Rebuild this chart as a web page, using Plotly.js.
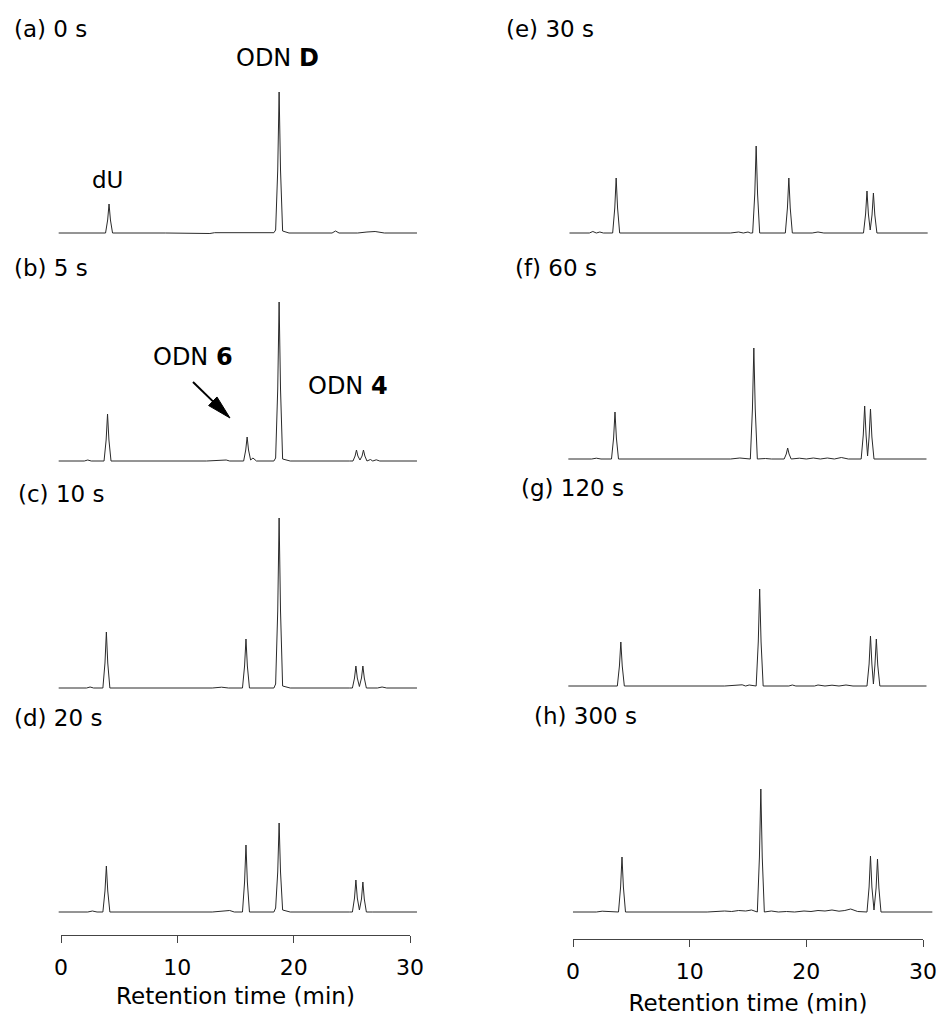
<!DOCTYPE html>
<html>
<head>
<meta charset="utf-8">
<script src="https://cdn.plot.ly/plotly-3.0.1.min.js"></script>
<style>html,body{margin:0;padding:0;background:#fff;}#chart{width:943px;height:1024px;}</style>
</head>
<body>
<div id="chart"></div>
<script>
// ---- Data: retention time (min) and detector response (arbitrary units) ----
const panelLabels = ["(a) 0 s","(b) 5 s","(c) 10 s","(d) 20 s","(e) 30 s","(f) 60 s","(g) 120 s","(h) 300 s"];
const tickValues = [0, 10, 20, 30];
const tickLabels = ["0", "10", "20", "30"];
const axisTitle = "Retention time (min)";

const xa = [-0.2, 1.8, 2.2, 2.6, 3.83, 4.01, 4.13, 4.25, 4.43, 9.0, 12.8, 13.2, 18.3, 18.45, 18.63, 18.75, 18.87, 19.05, 19.6, 23.3, 23.6, 23.9, 25.5, 26.3, 27.0, 27.8, 30.6];
const ya = [0, 0, 0.6, 0, 0, 13, 29, 13, 0, 0, -0.5, 0.3, 0.3, 3, 63, 141, 63, 2, 0, 0, 2, 0, 0, 1, 1.5, 0, 0];

const xb = [-0.2, 2.0, 2.3, 2.6, 3.7, 3.88, 4.0, 4.12, 4.3, 12.5, 14.2, 14.5, 15.7, 15.88, 16.0, 16.12, 16.3, 16.5, 16.8, 18.3, 18.45, 18.63, 18.75, 18.87, 19.05, 19.7, 24.8, 25.1, 25.28, 25.4, 25.52, 25.7, 25.88, 26.0, 26.12, 26.3, 26.6, 26.8, 27.1, 27.4, 30.6];
const yb = [0, 0, 1, 0, 0, 21, 47, 21, 0, 0, 1, 0, 0, 11, 24, 11, 1, 3, 0, 0, 3, 72, 159, 72, 2, 0, 0, 0, 5, 11, 5, 1, 5, 11, 5, 0, 1.5, 0, 1.2, 0, 0];

const xc = [-0.2, 2.2, 2.5, 2.8, 3.6, 3.78, 3.9, 4.02, 4.2, 13.0, 13.8, 14.4, 15.6, 15.78, 15.9, 16.02, 16.2, 18.3, 18.45, 18.63, 18.75, 18.87, 19.05, 19.7, 24.8, 25.05, 25.23, 25.35, 25.47, 25.65, 25.83, 25.95, 26.07, 26.25, 27.2, 27.6, 28.0, 30.6];
const yc = [0, 0, 1, 0, 0, 25, 56, 25, 0, 0, 0.8, 0, 0, 22, 49, 22, 0, 0, 4, 77, 170, 77, 2, 0, 0, 0, 10, 22, 10, 1.5, 10, 22, 10, 0, 0, 1, 0, 0];

const xd = [-0.2, 2.3, 2.7, 3.1, 3.6, 3.78, 3.9, 4.02, 4.2, 13.0, 14.5, 14.9, 15.6, 15.78, 15.9, 16.02, 16.2, 18.3, 18.45, 18.63, 18.75, 18.87, 19.05, 19.7, 24.8, 25.05, 25.23, 25.35, 25.47, 25.65, 25.83, 25.95, 26.07, 26.25, 26.8, 30.6];
const yd = [0, 0, 1, 0, 0, 21, 46, 21, 0, 0, 1.5, 0, 0, 30, 67, 30, 0, 0, 4, 40, 89, 40, 2, 0, 0, 0, 14, 32, 14, 2, 13, 30, 13, 0, 0, 0];

const xe = [-0.3, 1.4, 1.7, 2.0, 2.3, 2.6, 3.4, 3.58, 3.7, 3.82, 4.0, 13.5, 14.2, 14.6, 15.0, 15.2, 15.4, 15.58, 15.7, 15.82, 16.0, 18.2, 18.38, 18.5, 18.62, 18.8, 20.5, 21.0, 21.5, 24.9, 25.08, 25.2, 25.32, 25.475, 25.63, 25.75, 25.87, 26.05, 30.4];
const ye = [0, 0, 1.5, 0, 1, 0, 0, 25, 55, 25, 0, 0, 1, 0, 1, 0, 0, 39, 87, 39, 0, 0, 25, 55, 25, 0, 0, 1, 0, 0, 19, 42, 19, 3, 18, 40, 18, 0, 0];

const xf = [-0.4, 1.6, 2.0, 2.4, 3.3, 3.48, 3.6, 3.72, 3.9, 13.5, 14.3, 14.8, 15.2, 15.38, 15.5, 15.62, 15.8, 16.5, 17.0, 18.1, 18.28, 18.4, 18.52, 18.7, 19.4, 20.0, 20.6, 21.2, 21.8, 22.4, 23.0, 23.6, 24.7, 24.88, 25.0, 25.12, 25.25, 25.38, 25.5, 25.62, 25.8, 30.3];
const yf = [0, 0, 0.8, 0, 0, 21, 47, 21, 0, 0, 1, 0.5, 0, 50, 111, 50, 0, 0.5, 0, 0, 5, 11, 5, 0, 0.8, 0, 1, 0, 1, 0, 1.5, 0, 0, 24, 53, 24, 3, 22, 50, 22, 0, 0];

const xg = [-0.4, 2.5, 3.0, 3.8, 3.98, 4.1, 4.22, 4.4, 13.0, 14.5, 14.8, 15.1, 15.7, 15.88, 16.0, 16.12, 16.3, 18.5, 18.8, 19.1, 20.7, 21.0, 21.6, 22.2, 22.8, 23.4, 24.0, 25.2, 25.38, 25.5, 25.62, 25.75, 25.88, 26.0, 26.12, 26.3, 30.3];
const yg = [0, 0, 0.5, 0, 20, 44, 20, 0, 0, 1.2, 0, 1, 0, 44, 97, 44, 0, 0, 1, 0, 0, 1, 0, 0.8, 0, 1, 0, 0, 22, 50, 22, 2, 21, 47, 21, 0, 0];

const xh = [0, 2.0, 2.5, 3.9, 4.08, 4.2, 4.32, 4.5, 11.5, 13.0, 13.6, 14.2, 14.8, 15.3, 15.8, 15.98, 16.1, 16.22, 16.4, 17.0, 17.6, 18.3, 19.0, 19.8, 20.4, 21.0, 21.6, 22.2, 22.8, 23.3, 23.8, 24.4, 25.2, 25.38, 25.5, 25.62, 25.8, 25.98, 26.1, 26.22, 26.4, 30.8];
const yh = [0, 0, 0.8, 0, 25, 55, 25, 0, 0, 1, 0.5, 1.5, 1, 2, 0, 55, 123, 55, 0, 1, 0, 0.5, 0, 1, 0.5, 1.5, 1, 2, 0.8, 1.5, 3, 0.5, 0, 25, 56, 25, 2, 24, 53, 24, 0, 0];

// ---- Layout geometry (pixels) ----
const W = 943, H = 1024;
const fx = px => px / W;
const fy = py => 1 - py / H;
const FONT = "DejaVu Sans, Liberation Sans, Arial, sans-serif";

const seriesX = [xa, xb, xc, xd, xe, xf, xg, xh];
const seriesY = [ya, yb, yc, yd, ye, yf, yg, yh];
const baselinePx = [233, 461, 688, 912, 233, 459, 686, 912];
const colAxis = [
  {x0: 61, x30: 410, line: 935},
  {x0: 573, x30: 923, line: 939}
];
const labelPos = [[12, 29], [12, 268], [16, 494], [12, 718], [504, 29], [513, 268], [519, 488], [532, 716]];

const data = [];
const layout = {
  width: W, height: H,
  margin: {l: 0, r: 0, t: 0, b: 0},
  paper_bgcolor: "#ffffff",
  plot_bgcolor: "rgba(0,0,0,0)",
  showlegend: false,
  font: {family: FONT, color: "#000"},
  annotations: [],
  shapes: []
};

for (let i = 0; i < 8; i++) {
  const col = i < 4 ? 0 : 1;
  const ca = colAxis[col];
  const pxPerMin = (ca.x30 - ca.x0) / 30;
  const n = i + 1;
  const xr = [-0.5, 31];
  layout["xaxis" + n] = {
    domain: [fx(ca.x0 + xr[0] * pxPerMin), fx(ca.x0 + xr[1] * pxPerMin)],
    range: xr, visible: false, fixedrange: true, anchor: "y" + n
  };
  layout["yaxis" + n] = {
    domain: [fy(baselinePx[i] + 10), fy(baselinePx[i] - 190)],
    range: [-10, 190], visible: false, fixedrange: true, anchor: "x" + n
  };
  data.push({
    type: "scatter", mode: "lines",
    x: seriesX[i], y: seriesY[i],
    xaxis: "x" + n, yaxis: "y" + n,
    line: {color: "#2a2a2a", width: 1},
    hoverinfo: "skip"
  });
  layout.annotations.push({
    xref: "paper", yref: "paper",
    x: fx(labelPos[i][0]), y: fy(labelPos[i][1]),
    xanchor: "left", yanchor: "middle",
    text: panelLabels[i], showarrow: false,
    font: {family: FONT, size: 23, color: "#000"}
  });
}

// bottom axes
for (let c = 0; c < 2; c++) {
  const n = 9 + c;
  const ca = colAxis[c];
  layout["xaxis" + n] = {
    domain: [fx(ca.x0), fx(ca.x30)], range: [0, 30], anchor: "y" + n,
    showline: true, linecolor: "#444", linewidth: 1,
    ticks: "outside", ticklen: 7, tickwidth: 1, tickcolor: "#444",
    ticklabelstandoff: 6,
    tickvals: tickValues, ticktext: tickLabels,
    showgrid: false, zeroline: false, fixedrange: true,
    tickfont: {family: FONT, size: 22, color: "#000"},
    title: {text: axisTitle, font: {family: FONT, size: 23, color: "#000"}, standoff: c === 0 ? 8 : 11}
  };
  layout["yaxis" + n] = {
    domain: [fy(ca.line), fy(ca.line - 10)], range: [0, 1],
    visible: false, fixedrange: true, anchor: "x" + n
  };
  data.push({
    type: "scatter", mode: "lines", x: [tickValues[0], tickValues[3]], y: [0, 0],
    xaxis: "x" + n, yaxis: "y" + n,
    line: {color: "rgba(0,0,0,0)", width: 0}, hoverinfo: "skip"
  });
}

// peak annotations
const peakNotes = [
  {text: "ODN <b>D</b>", x: 277, y: 58, size: 24},
  {text: "dU", x: 107, y: 180, size: 23},
  {text: "ODN <b>6</b>", x: 193, y: 357, size: 24},
  {text: "ODN <b>4</b>", x: 348, y: 386, size: 24}
];
peakNotes.forEach(p => layout.annotations.push({
  xref: "paper", yref: "paper", x: fx(p.x), y: fy(p.y),
  xanchor: "center", yanchor: "middle", text: p.text, showarrow: false,
  font: {family: FONT, size: p.size, color: "#000"}
}));

// arrow pointing to ODN 6
const tail = [193, 382], tip = [230, 418];
const dx = tip[0] - tail[0], dy = tip[1] - tail[1];
const L = Math.hypot(dx, dy), ux = dx / L, uy = dy / L;
const headLen = 24, halfW = 6;
const bx = tip[0] - headLen * ux, by = tip[1] - headLen * uy;
layout.shapes.push({
  type: "line", xref: "paper", yref: "paper",
  x0: fx(tail[0]), y0: fy(tail[1]), x1: fx(bx + 2 * ux), y1: fy(by + 2 * uy),
  line: {color: "#000", width: 2}
});
const p1 = [bx - halfW * uy, by + halfW * ux], p2 = [bx + halfW * uy, by - halfW * ux];
layout.shapes.push({
  type: "path", xref: "paper", yref: "paper",
  path: `M ${fx(tip[0])} ${fy(tip[1])} L ${fx(p1[0])} ${fy(p1[1])} L ${fx(p2[0])} ${fy(p2[1])} Z`,
  fillcolor: "#000", line: {color: "#000", width: 1}
});

Plotly.newPlot("chart", data, layout, {staticPlot: true, displayModeBar: false});
</script>
</body>
</html>
